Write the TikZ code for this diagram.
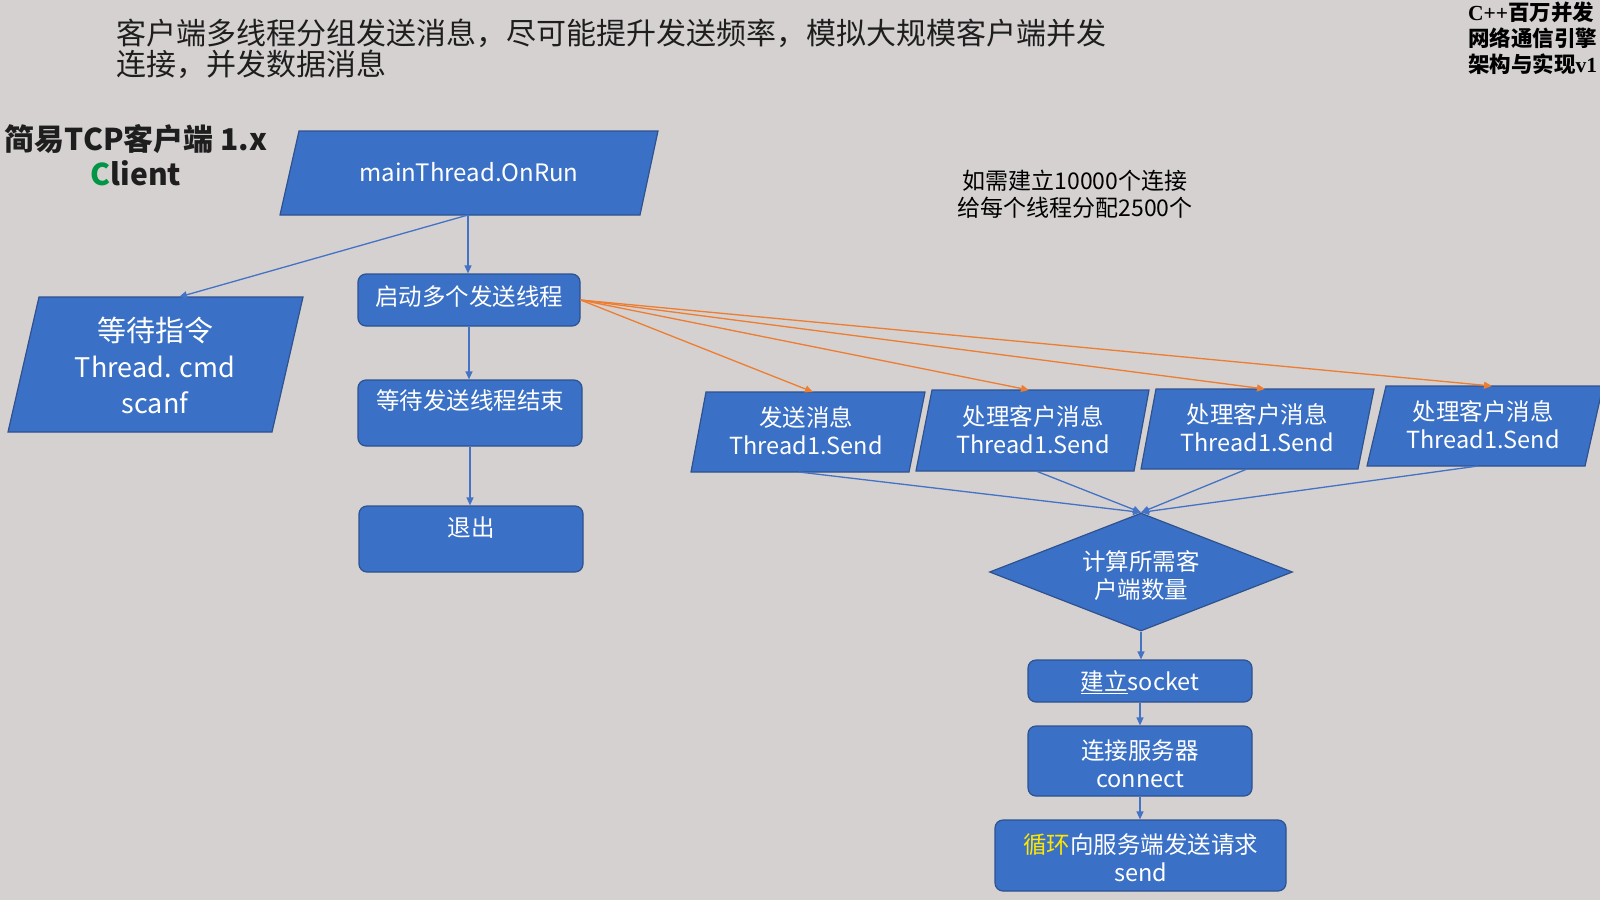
\documentclass[tikz,border=0pt]{standalone}
\usepackage{fontspec}
\setmainfont{Noto Sans CJK SC}
\newfontfamily\serifb{Liberation Serif}
\usetikzlibrary{arrows.meta,shapes.geometric}
\definecolor{bg}{RGB}{213,209,209}
\definecolor{boxblue}{RGB}{58,112,198}
\definecolor{boxedge}{RGB}{47,82,143}
\definecolor{linkblue}{RGB}{68,114,196}
\definecolor{linkorange}{RGB}{237,125,49}
\definecolor{clientgreen}{RGB}{0,150,70}
\definecolor{loopyellow}{RGB}{255,230,0}
\definecolor{darktext}{RGB}{30,30,30}
\begin{document}
\begin{tikzpicture}[x=1pt,y=-1pt,
  rbox/.style={draw=boxedge, fill=boxblue, line width=1.2pt, rounded corners=8pt, inner sep=0pt},
  para/.style={draw=boxedge, fill=boxblue, line width=1.2pt},
  dia/.style={diamond, draw=boxedge, fill=boxblue, line width=1.2pt, inner sep=0pt, minimum width=303pt, minimum height=118pt},
  btext/.style={text=white, font=\fontsize{23.5}{28}\selectfont, align=center, inner sep=0pt},
  link/.style={draw=linkblue, line width=1.3pt, -{Triangle[length=8pt,width=7pt]}},
  olink/.style={draw=linkorange, line width=1.3pt, -{Triangle[length=8pt,width=7pt]}}]
\useasboundingbox (0,0) rectangle (1600,900);
\fill[bg] (0,0) rectangle (1600,900);

% header texts
\node[anchor=west, align=left, inner sep=0pt, text=darktext, font=\fontsize{30}{31}\selectfont] (header) at (116,49)
  {客户端多线程分组发送消息，尽可能提升发送频率，模拟大规模客户端并发\\连接，并发数据消息};
\node[align=left, anchor=west, inner sep=0pt, text=black, font=\bfseries\fontsize{21.5}{26}\selectfont] (logo) at (1468,38)
  {{\serifb\bfseries C++}百万并发\\网络通信引擎\\架构与实现{\serifb\bfseries v1}};
\node[align=center, inner sep=0pt, text=darktext, font=\bfseries\fontsize{30}{35}\selectfont] (ttl) at (136,155)
  {简易TCP客户端 1.x\\{\color{clientgreen}C}lient};
\node[align=center, inner sep=0pt, text=black, font=\fontsize{23}{27}\selectfont] (note) at (1075,194)
  {如需建立10000个连接\\给每个线程分配2500个};

% parallelograms
\draw[para] (299,131) -- (658,131) -- (640,215) -- (280,215) -- cycle;
\node[btext, font=\fontsize{24}{27}\selectfont] (mainT) at (469,172) {mainThread.OnRun};
\coordinate (mainB) at (468,215);

\draw[para] (39,297) -- (303,297) -- (272,432) -- (8,432) -- cycle;
\node[btext, font=\fontsize{29}{36}\selectfont] (cmdT) at (155,365) {等待指令\\{\fontsize{27}{36}\selectfont Thread. cmd}\\{\fontsize{27}{36}\selectfont scanf}};
\coordinate (cmdTop) at (179,297);

\draw[para] (706,392) -- (925,392) -- (909,472) -- (691,472) -- cycle;
\node[btext] (t1) at (806,431) {发送消息\\Thread1.Send};
\coordinate (t1T) at (813,392); \coordinate (t1B) at (799,472);

\draw[para] (932,390) -- (1149,390) -- (1134,471) -- (916,471) -- cycle;
\node[btext] (t2) at (1033,429.5) {处理客户消息\\Thread1.Send};
\coordinate (t2T) at (1029,390); \coordinate (t2B) at (1036,471);

\draw[para] (1156,389) -- (1374,389) -- (1358,469) -- (1141,469) -- cycle;
\node[btext] (t3) at (1257,428) {处理客户消息\\Thread1.Send};
\coordinate (t3T) at (1265,389); \coordinate (t3B) at (1247,469);

\draw[para] (1386,386) -- (1603,386) -- (1585,466) -- (1367,466) -- cycle;
\node[btext] (t4) at (1483,425) {处理客户消息\\Thread1.Send};
\coordinate (t4T) at (1492,386); \coordinate (t4B) at (1478,466);

% left column boxes
\node[rbox, minimum width=222pt, minimum height=52pt] (start) at (469,300) {};
\node[btext] (startT) at (469,297) {启动多个发送线程};
\node[rbox, minimum width=224pt, minimum height=66pt] (waitend) at (470,413) {};
\node[btext] (waitendT) at (470,401) {等待发送线程结束};
\node[rbox, minimum width=224pt, minimum height=66pt] (quit) at (471,539) {};
\node[btext] (quitT) at (471,528) {退出};

% right column
\node[dia] (calc) at (1141,572) {};
\node[btext] (calcT) at (1141,576) {计算所需客\\户端数量};
\node[rbox, minimum width=224pt, minimum height=42pt] (sock) at (1140,681) {};
\node[btext] (sockT) at (1140,682) {\underline{建立}socket};
\node[rbox, minimum width=224pt, minimum height=70pt] (conn) at (1140,761) {};
\node[btext] (connT) at (1140,763.5) {连接服务器\\connect};
\node[rbox, minimum width=291pt, minimum height=71pt] (send) at (1140.5,855.5) {};
\node[btext] (sendT) at (1140.5,857.5) {{\color{loopyellow}循环}向服务端发送请求\\send};

% connectors
\draw[link] (mainB) -- (cmdTop);
\draw[link] (mainB) -- (mainB |- start.north);
\draw[link] (start.south) -- (start.south |- waitend.north);
\draw[link] (waitend.south) -- (waitend.south |- quit.north);

\draw[olink] (start.east) -- (t1T);
\draw[olink] (start.east) -- (t2T);
\draw[olink] (start.east) -- (t3T);
\draw[olink] (start.east) -- (t4T);

\draw[link] (t1B) -- (calc.north);
\draw[link] (t2B) -- (calc.north);
\draw[link] (t3B) -- (calc.north);
\draw[link] (t4B) -- (calc.north);

\draw[link] (calc.south) -- (calc.south |- sock.north);
\draw[link] (sock.south) -- (sock.south |- conn.north);
\draw[link] (conn.south) -- (conn.south |- send.north);
\end{tikzpicture}
\end{document}
